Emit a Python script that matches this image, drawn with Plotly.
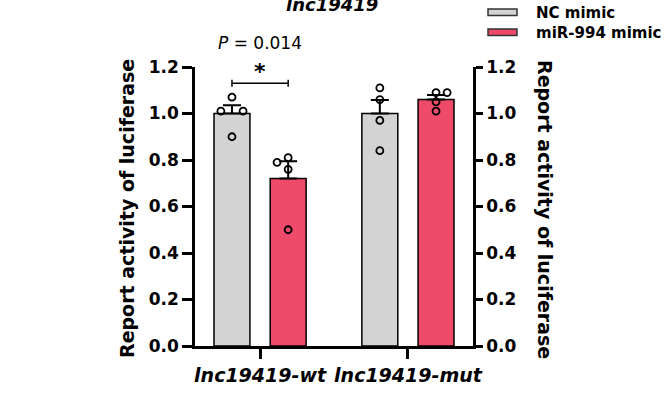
import plotly.graph_objects as go

# ---------------- data ----------------
categories = ["lnc19419-wt", "lnc19419-mut"]
series_names = ["NC mimic", "miR-994 mimic"]
nc_mean = [1.00, 1.00]
nc_sem = [0.035, 0.058]
mir_mean = [0.72, 1.06]
mir_sem = [0.075, 0.02]
nc_points = [[1.07, 1.01, 1.01, 0.90], [1.11, 1.06, 0.97, 0.84]]
mir_points = [[0.81, 0.79, 0.76, 0.50], [1.09, 1.09, 1.05, 1.01]]
y_ticks = [0.0, 0.2, 0.4, 0.6, 0.8, 1.0, 1.2]
p_label = "<i>P</i> = 0.014"
sig_label = "*"
sig_height = 1.13
title_text = "lnc19419"
y_title = "Report activity of luciferase"

# ---------------- style / layout ----------------
FONT = "DejaVu Sans"
GREY = "#D3D3D3"
RED = "#EE4A69"
BAR_W = 0.243
OFF = 0.19
JIT = 0.075
nc_jitter = [[0, -JIT, JIT, 0], [0, 0, 0, 0]]
mir_jitter = [[0, -JIT, 0, 0], [0, JIT, 0, 0]]

W, H = 666, 394
ML, MR, MT, MB = 195, 193, 67, 48
PW = W - ML - MR
PH = H - MT - MB


def px_x(p):
    return (p - ML) / PW


def px_y(p):
    return (H - MB - p) / PH


cat_x = list(range(len(categories)))

fig = go.Figure()

for means, sems, color, off, name in [
    (nc_mean, nc_sem, GREY, -OFF, series_names[0]),
    (mir_mean, mir_sem, RED, OFF, series_names[1]),
]:
    fig.add_trace(go.Bar(
        x=[c + off for c in cat_x], y=means, width=BAR_W, name=name,
        marker=dict(color=color, line=dict(color="black", width=1.5)),
        error_y=dict(type="data", symmetric=False, array=sems,
                     arrayminus=[0] * len(sems), color="black",
                     thickness=2, width=9),
        showlegend=False,
    ))

for pts, jit, off in [(nc_points, nc_jitter, -OFF), (mir_points, mir_jitter, OFF)]:
    xs, ys = [], []
    for c, (vals, js) in enumerate(zip(pts, jit)):
        for v, j in zip(vals, js):
            xs.append(cat_x[c] + off + j)
            ys.append(v)
    fig.add_trace(go.Scatter(
        x=xs, y=ys, mode="markers", showlegend=False,
        marker=dict(symbol="circle-open", size=7, color="black",
                    line=dict(width=1.8, color="black")),
    ))

# invisible trace on right axis
fig.add_trace(go.Scatter(x=[cat_x[0]], y=[0], yaxis="y2", mode="markers",
                         marker=dict(opacity=0), showlegend=False,
                         hoverinfo="skip"))

axis_common = dict(range=[0, 1.2], tickvals=y_ticks,
                   ticktext=[f"<b>{v:.1f}</b>" for v in y_ticks],
                   ticks="outside", tickwidth=2.5, tickcolor="black",
                   showline=True, linewidth=2.5, linecolor="black",
                   showgrid=False, zeroline=False, automargin=False,
                   tickfont=dict(family=FONT, size=17, color="black"))

fig.update_layout(
    width=W, height=H, autosize=False,
    margin=dict(l=ML, r=MR, t=MT, b=MB, pad=0),
    paper_bgcolor="white", plot_bgcolor="white",
    font=dict(family=FONT, color="black"),
    xaxis=dict(range=[-0.44, 1.44], tickvals=cat_x,
               ticktext=[f"<b><i>{c}</i></b>" for c in categories],
               ticks="outside", ticklen=10, tickwidth=2.5, tickcolor="black",
               showline=True, linewidth=2.5, linecolor="black",
               showgrid=False, zeroline=False, automargin=False,
               tickfont=dict(family=FONT, size=19, color="black")),
    yaxis=dict(**axis_common, ticklen=10, side="left"),
    yaxis2=dict(**axis_common, ticklen=7, side="right", overlaying="y",
                anchor="x"),
)

# significance bracket
x0 = cat_x[0] - OFF
x1 = cat_x[0] + OFF
fig.add_shape(type="line", xref="x", yref="y", x0=x0, x1=x1, y0=sig_height,
              y1=sig_height, line=dict(color="black", width=1.5))
for xx in (x0, x1):
    fig.add_shape(type="line", xref="x", yref="y", x0=xx, x1=xx,
                  y0=sig_height - 0.015, y1=sig_height + 0.015,
                  line=dict(color="black", width=1.5))

annots = [
    dict(x=cat_x[0], y=px_y(72), xref="x", yref="paper", text=f"<b>{sig_label}</b>",
         font=dict(size=22, family=FONT)),
    dict(x=cat_x[0], y=px_y(43), xref="x", yref="paper", text=p_label,
         font=dict(size=17, family=FONT)),
    dict(x=px_x(332), y=px_y(5), xref="paper", yref="paper",
         text=f"<b><i>{title_text}</i></b>", font=dict(size=18, family=FONT)),
    dict(x=px_x(127), y=px_y(209), xref="paper", yref="paper",
         text=f"<b>{y_title}</b>", textangle=-90, font=dict(size=19, family=FONT)),
    dict(x=px_x(545), y=px_y(209), xref="paper", yref="paper",
         text=f"<b>{y_title}</b>", textangle=90, font=dict(size=19, family=FONT)),
]

# manual legend
for i, (name, color) in enumerate(zip(series_names, [GREY, RED])):
    top = 9 + 20 * i
    fig.add_shape(type="rect", xref="paper", yref="paper",
                  x0=px_x(488), x1=px_x(517), y0=px_y(top + 6.5), y1=px_y(top),
                  fillcolor=color, line=dict(color="#333333", width=1.5))
    annots.append(dict(x=px_x(534), y=px_y(top + 3.5), xref="paper", yref="paper",
                       xanchor="left", text=f"<b>{name}</b>",
                       font=dict(size=15, family=FONT)))

for a in annots:
    a.setdefault("showarrow", False)
    a.setdefault("xanchor", "center")
    a.setdefault("yanchor", "middle")
    a["font"].setdefault("color", "black")
    fig.add_annotation(**a)

fig.write_html("out.html", config={"displayModeBar": False},
               post_script="document.body.style.margin='0';document.body.style.overflow='hidden';")
